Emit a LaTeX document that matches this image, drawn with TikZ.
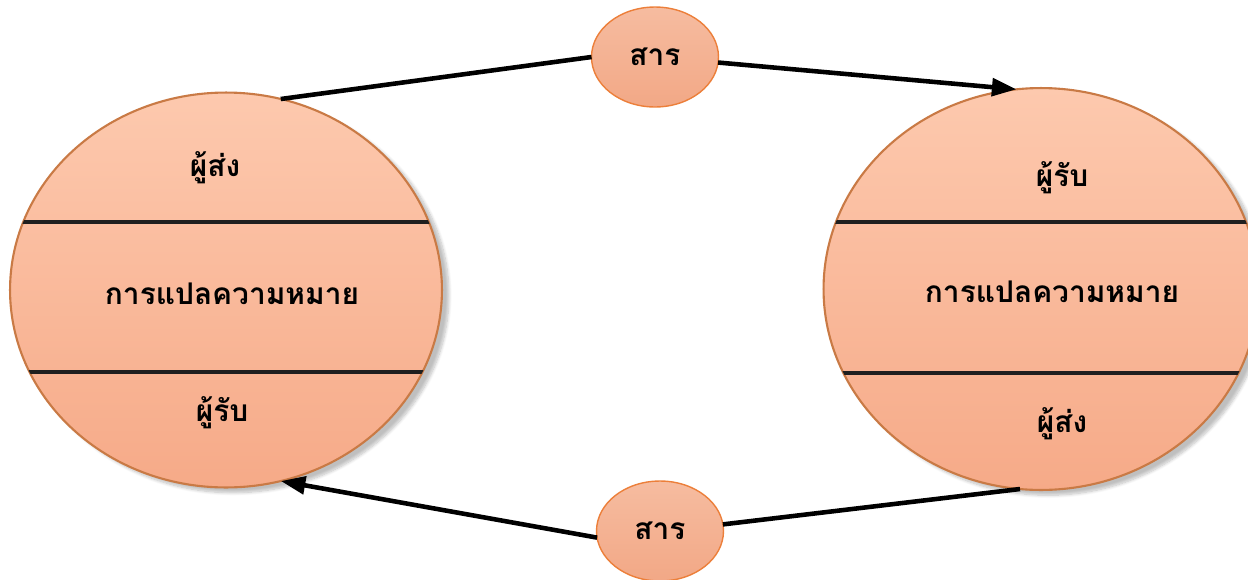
\documentclass[tikz,border=0pt]{standalone}
\usepackage{fontspec}
\newfontfamily\thaifont[Script=Thai]{Loma}
\usetikzlibrary{shapes.geometric,arrows.meta,shadows.blur}
\definecolor{peachtop}{HTML}{FDC9AE}
\definecolor{peachbot}{HTML}{F6AA88}
\definecolor{rimbrown}{HTML}{C97A45}
\definecolor{msgtop}{HTML}{F6BCA0}
\definecolor{msgbot}{HTML}{F2A886}
\definecolor{msgrim}{HTML}{EC7F3A}
\tikzset{
  party/.style={ellipse, draw=rimbrown, line width=1.2pt, top color=peachtop,
    bottom color=peachbot, inner sep=0pt, outer sep=0pt,
    blur shadow={shadow xshift=4pt, shadow yshift=-3pt, shadow opacity=25, shadow blur steps=8}},
  msg/.style={ellipse, draw=msgrim, line width=0.8pt, top color=msgtop,
    bottom color=msgbot, minimum width=2.54cm, minimum height=2.0cm,
    inner sep=0pt, outer sep=0pt, font=\thaifont\bfseries\fontsize{17}{20}\selectfont},
  label/.style={font=\thaifont\bfseries\fontsize{17}{20}\selectfont, inner sep=0pt},
  divider/.style={line width=2.2pt, black!88},
  flow/.style={line width=2.6pt, black},
  flowtip/.style={flow, -{Triangle[length=14pt, width=10pt]}}
}
\begin{document}
\begin{tikzpicture}[x=0.02cm, y=-0.02cm]
\useasboundingbox (0,0) rectangle (1248,579);

% the two parties of the exchange
\node[party, minimum width=8.64cm, minimum height=7.9cm] (L) at (226,290) {};
\node[party, minimum width=8.7cm, minimum height=8.04cm] (R) at (1041,289) {};

% bands inside the left party
\begin{scope}
  \clip (L.center) ellipse [x radius=4.32cm, y radius=3.95cm];
  \draw[divider] (0,222) -- (460,222);
  \draw[divider] (0,372) -- (460,372);
\end{scope}
% bands inside the right party
\begin{scope}
  \clip (R.center) ellipse [x radius=4.35cm, y radius=4.02cm];
  \draw[divider] (800,222) -- (1260,222);
  \draw[divider] (800,373) -- (1260,373);
\end{scope}

\node[label] (ls) at (215,168) {ผู้ส่ง};
\node[label] (lm) at (232,294) {การแปลความหมาย};
\node[label] (lr) at (222,413) {ผู้รับ};

\node[label] (rr) at (1062,178) {ผู้รับ};
\node[label] (rm) at (1052,292) {การแปลความหมาย};
\node[label] (rs) at (1062,424) {ผู้ส่ง};

% the messages passed between them
\node[msg] (S1) at (655,57) {สาร};
\node[msg] (S2) at (660,531) {สาร};

\draw[flow] (L.74) -- (S1.west);
\draw[flowtip] (S1.355) -- (R.97);
\draw[flow] (R.264) -- (S2.6);
\draw[flowtip] (S2.186) -- (L.286);
\end{tikzpicture}
\end{document}
